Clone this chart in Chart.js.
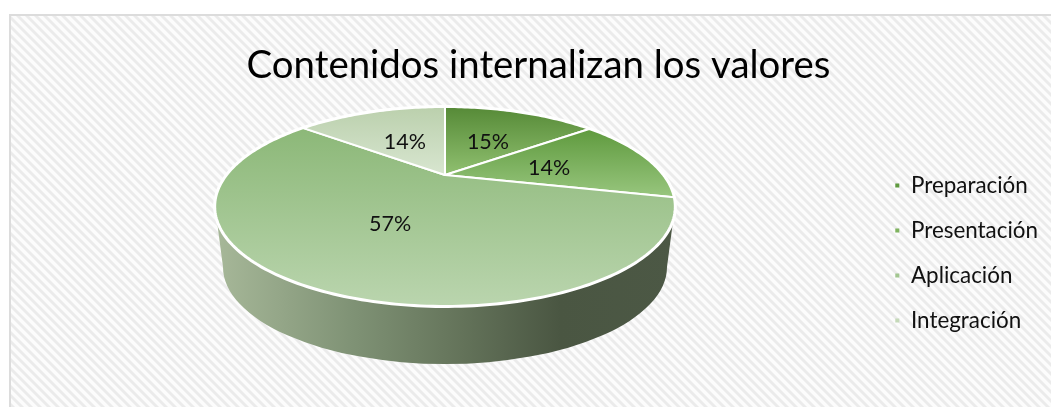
<!DOCTYPE html>
<html>
<head>
<meta charset="utf-8">
<title>Contenidos internalizan los valores</title>
<script src="https://cdn.jsdelivr.net/npm/chart.js@4"></script>
<style>
    body { margin: 0; background: #fff; }
    canvas { display: block; }
</style>
</head>
<body>
<canvas id="pieChart" width="1051" height="407"></canvas>
<script>
const chartTitle = 'Contenidos internalizan los valores';
const categories = ['Preparación', 'Presentación', 'Aplicación', 'Integración'];
const shares = [14.5, 14.2, 57.1, 14.2];

const legendColors = ['#5f9a3f', '#7fb35f', '#a2c690', '#c5d9b9'];
const sliceTopColors = ['#568a37', '#5f9a3e', '#8cb878', '#bbd0ad'];
const sliceBottomColors = ['#90c070', '#98c67e', '#bad5ae', '#d8e6d0'];

// the pie plane seen in perspective, the apex is not the middle of the ellipse
const apex = { x: 445, y: 175 };
const plane = { rx: 218, ry: 89.5, tilt: 0.3166 };
const wall = { top: 206, bottom: 267, rx: 222, ry: 97 };
const labelRadius = 0.5;

function project(angle, r) {
    const x = r * Math.cos(angle);
    const y = r * Math.sin(angle);
    const w = 1 - plane.tilt * y;
    return { x: apex.x + plane.rx * x / w, y: apex.y + plane.ry * y / w };
}

// arcs keep the angles the pie controller computes, only the outline is projected
Chart.ArcElement.prototype.draw = function (ctx) {
    const index = this.$context.dataIndex;
    const points = [{ x: apex.x, y: apex.y }];
    const steps = Math.ceil((this.endAngle - this.startAngle) / 0.02);
    for (let i = 0; i <= steps; i++) {
        points.push(project(this.startAngle + (this.endAngle - this.startAngle) * i / steps, 1));
    }
    const ys = points.map(p => p.y);
    const gradient = ctx.createLinearGradient(0, Math.min(...ys), 0, Math.max(...ys));
    gradient.addColorStop(0, sliceTopColors[index]);
    gradient.addColorStop(1, sliceBottomColors[index]);

    ctx.save();
    ctx.beginPath();
    points.forEach((p, i) => i ? ctx.lineTo(p.x, p.y) : ctx.moveTo(p.x, p.y));
    ctx.closePath();
    ctx.fillStyle = gradient;
    ctx.fill();
    ctx.lineJoin = 'round';
    ctx.lineWidth = 2;
    ctx.strokeStyle = '#ffffff';
    ctx.stroke();
    ctx.restore();
};

function hatchPattern(ctx) {
    const size = 9;
    const tile = document.createElement('canvas');
    tile.width = size;
    tile.height = size;
    const t = tile.getContext('2d');
    t.fillStyle = '#fcfcfc';
    t.fillRect(0, 0, size, size);
    for (let y = 0; y < size; y++) {
        for (let x = 0; x < size; x++) {
            const d = (x - y + size) % size;
            if (d < 5) {
                t.fillStyle = d === 0 || d === 4 ? '#f3f3f3' : '#ebebeb';
                t.fillRect(x, y, 1, 1);
            }
        }
    }
    return ctx.createPattern(tile, 'repeat');
}

const pieBackground = {
    id: 'pieBackground',
    beforeDraw(chart) {
        const ctx = chart.ctx;
        ctx.save();
        ctx.fillStyle = '#ffffff';
        ctx.fillRect(0, 0, chart.width, chart.height);
        ctx.fillStyle = hatchPattern(ctx);
        ctx.fillRect(11, 16, chart.width - 11, chart.height - 16);
        ctx.fillStyle = '#dcdcdc';
        ctx.fillRect(9, 14, chart.width - 9, 2);
        ctx.fillRect(9, 14, 2, chart.height - 14);
        // white plates behind the legend rows
        ctx.fillStyle = 'rgba(255, 255, 255, 0.85)';
        chart.legend.legendHitBoxes.forEach(box => {
            ctx.fillRect(888, box.y - 1, 150, 24);
        });
        ctx.restore();
    },
    beforeDatasetsDraw(chart) {
        const ctx = chart.ctx;
        const left = apex.x - wall.rx;
        const gradient = ctx.createLinearGradient(215, 0, 675, 0);
        gradient.addColorStop(0, '#a7b899');
        gradient.addColorStop(0.3, '#7f9275');
        gradient.addColorStop(0.5, '#68785e');
        gradient.addColorStop(0.75, '#4a5642');
        gradient.addColorStop(1, '#4c5845');
        ctx.save();
        ctx.beginPath();
        ctx.moveTo(215, wall.top);
        ctx.lineTo(left, wall.bottom);
        ctx.ellipse(apex.x, wall.bottom, wall.rx, wall.ry, 0, Math.PI, 0, true);
        ctx.lineTo(675, wall.top);
        ctx.closePath();
        ctx.fillStyle = gradient;
        ctx.fill();

        // thicker white rim round the top face
        ctx.beginPath();
        for (let a = 0; a < Math.PI * 2; a += 0.02) {
            const p = project(a, 1);
            ctx.lineTo(p.x, p.y);
        }
        ctx.closePath();
        ctx.lineWidth = 4;
        ctx.strokeStyle = '#ffffff';
        ctx.stroke();
        ctx.restore();
    },
    afterDatasetsDraw(chart) {
        const ctx = chart.ctx;
        ctx.save();
        ctx.font = '21.5px Lato';
        ctx.fillStyle = '#111111';
        ctx.textAlign = 'center';
        ctx.textBaseline = 'middle';
        chart.getDatasetMeta(0).data.forEach((arc, i) => {
            const p = project((arc.startAngle + arc.endAngle) / 2, labelRadius);
            ctx.fillText(Math.round(shares[i]) + '%', p.x + 1, p.y + 2);
        });
        ctx.restore();
    }
};

new Chart(document.getElementById('pieChart').getContext('2d'), {
    type: 'pie',
    plugins: [pieBackground],
    data: {
        labels: categories,
        datasets: [{
            data: shares,
            backgroundColor: legendColors,
            borderWidth: 0
        }]
    },
    options: {
        responsive: false,
        animation: false,
        layout: { padding: { left: 29, right: 3 } },
        plugins: {
            tooltip: { enabled: false },
            title: {
                display: true,
                text: chartTitle,
                color: '#000000',
                font: { family: 'Lato', size: 38.4, weight: 'normal' },
                padding: { top: 43, bottom: 10 }
            },
            legend: {
                position: 'right',
                fullSize: false,
                labels: {
                    usePointStyle: true,
                    pointStyle: 'rect',
                    boxWidth: 5,
                    boxHeight: 4,
                    padding: 22.6,
                    color: '#111111',
                    font: { family: 'Lato', size: 22.4 }
                }
            }
        }
    }
});
</script>
</body>
</html>
